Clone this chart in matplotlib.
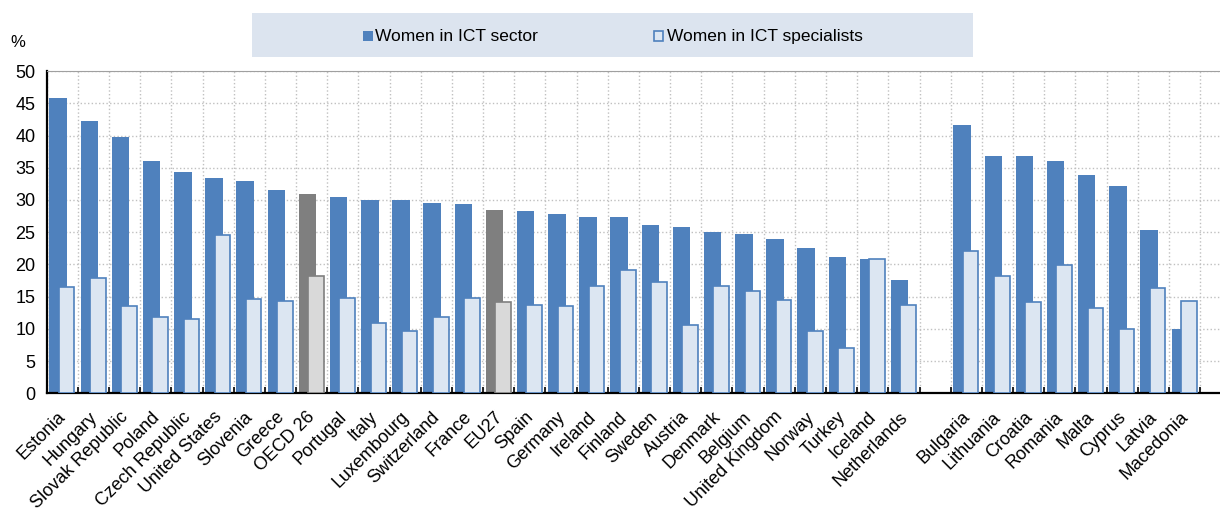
import numpy as np
import matplotlib
matplotlib.use("Agg")
from matplotlib import pyplot as plt
from matplotlib.patches import Rectangle
from matplotlib.transforms import ScaledTranslation

plt.rcParams['font.family'] = ['Liberation Sans', 'DejaVu Sans']

# Data (%), "" marks the gap between the two groups
countries = ['Estonia', 'Hungary', 'Slovak Republic', 'Poland', 'Czech Republic',
             'United States', 'Slovenia', 'Greece', 'OECD 26', 'Portugal', 'Italy',
             'Luxembourg', 'Switzerland', 'France', 'EU27', 'Spain', 'Germany',
             'Ireland', 'Finland', 'Sweden', 'Austria', 'Denmark', 'Belgium',
             'United Kingdom', 'Norway', 'Turkey', 'Iceland', 'Netherlands', '',
             'Bulgaria', 'Lithuania', 'Croatia', 'Romania', 'Malta', 'Cyprus',
             'Latvia', 'Macedonia']
ict_sector = [45.9, 42.2, 39.8, 36.1, 34.4, 33.4, 32.9, 31.5, 31.0, 30.5, 30.0,
              30.0, 29.5, 29.3, 28.5, 28.3, 27.8, 27.3, 27.3, 26.1, 25.8, 25.1,
              24.7, 23.9, 22.6, 21.2, 20.9, 17.5, np.nan,
              41.7, 36.8, 36.8, 36.1, 33.9, 32.2, 25.3, 10.0]
ict_specialists = [16.5, 17.9, 13.5, 11.9, 11.6, 24.6, 14.6, 14.3, 18.2, 14.8, 10.9,
                   9.7, 11.9, 14.8, 14.1, 13.7, 13.5, 16.6, 19.1, 17.2, 10.6, 16.6,
                   15.8, 14.5, 9.7, 7.0, 20.8, 13.7, np.nan,
                   22.1, 18.2, 14.2, 19.9, 13.3, 9.9, 16.4, 14.3]
aggregates = ['OECD 26', 'EU27']

dark_blue = '#4f81bd'
light_blue = '#dce6f2'

x = np.arange(len(countries))
c1 = [('#7f7f7f' if c in aggregates else dark_blue) for c in countries]
c2 = [('#d9d9d9' if c in aggregates else light_blue) for c in countries]
e2 = [('#7f7f7f' if c in aggregates else dark_blue) for c in countries]

fig = plt.figure(figsize=(12.2, 5.19), dpi=100)
ax = fig.add_axes([0.0383, 0.2423, 0.9617, 0.6207])

ax.bar(x - 0.135, ict_sector, width=0.56, color=c1, zorder=2)
ax.bar(x + 0.14, ict_specialists, width=0.5, color=c2, edgecolor=e2,
       linewidth=1.2, zorder=3)

ax.set_ylim(0, 50)
ax.set_xlim(-0.5, 37.14)
ax.set_yticks(np.arange(0, 51, 5))
ax.tick_params(axis='y', labelsize=13, length=0, pad=8)

ax.set_xticks(x)
ax.set_xticklabels(countries, rotation=45, ha='right', rotation_mode='anchor',
                   fontsize=13)
ax.tick_params(axis='x', length=0, pad=11)
shift = ScaledTranslation(-5 / 100, 0, fig.dpi_scale_trans)
for lab in ax.get_xticklabels():
    lab.set_transform(lab.get_transform() + shift)
ax.set_xticks(np.arange(-0.5, 37, 1), minor=True)
ax.tick_params(axis='x', which='minor', length=4, direction='in', width=1.2)

ax.grid(axis='y', color='#c0c0c0', linestyle=':', linewidth=1, zorder=0)
ax.grid(axis='x', which='minor', color='#c0c0c0', linestyle=':', linewidth=1,
        zorder=0)
ax.set_axisbelow(True)

for side in ['left', 'bottom']:
    ax.spines[side].set_linewidth(1.6)
    ax.spines[side].set_color('black')
ax.spines['top'].set_color('#a0a0a0')
ax.spines['right'].set_visible(False)

fig.text(0.0148, 0.918, '%', fontsize=12, ha='center', va='center')

# legend band on top
fig.patches.append(Rectangle((0.2066, 0.890), 0.5906, 0.0848,
                             transform=fig.transFigure, facecolor='#dce4ef',
                             edgecolor='none'))
fig.patches.append(Rectangle((0.2975, 0.921), 0.0085, 0.0200,
                             transform=fig.transFigure, facecolor=dark_blue,
                             edgecolor='none'))
fig.text(0.3075, 0.929, 'Women in ICT sector', fontsize=12.5, va='center')
fig.patches.append(Rectangle((0.5357, 0.921), 0.0078, 0.0190,
                             transform=fig.transFigure, facecolor=light_blue,
                             edgecolor=dark_blue, linewidth=1.2))
fig.text(0.5467, 0.929, 'Women in ICT specialists', fontsize=12.5, va='center')

fig.savefig('out.png', dpi=100)
